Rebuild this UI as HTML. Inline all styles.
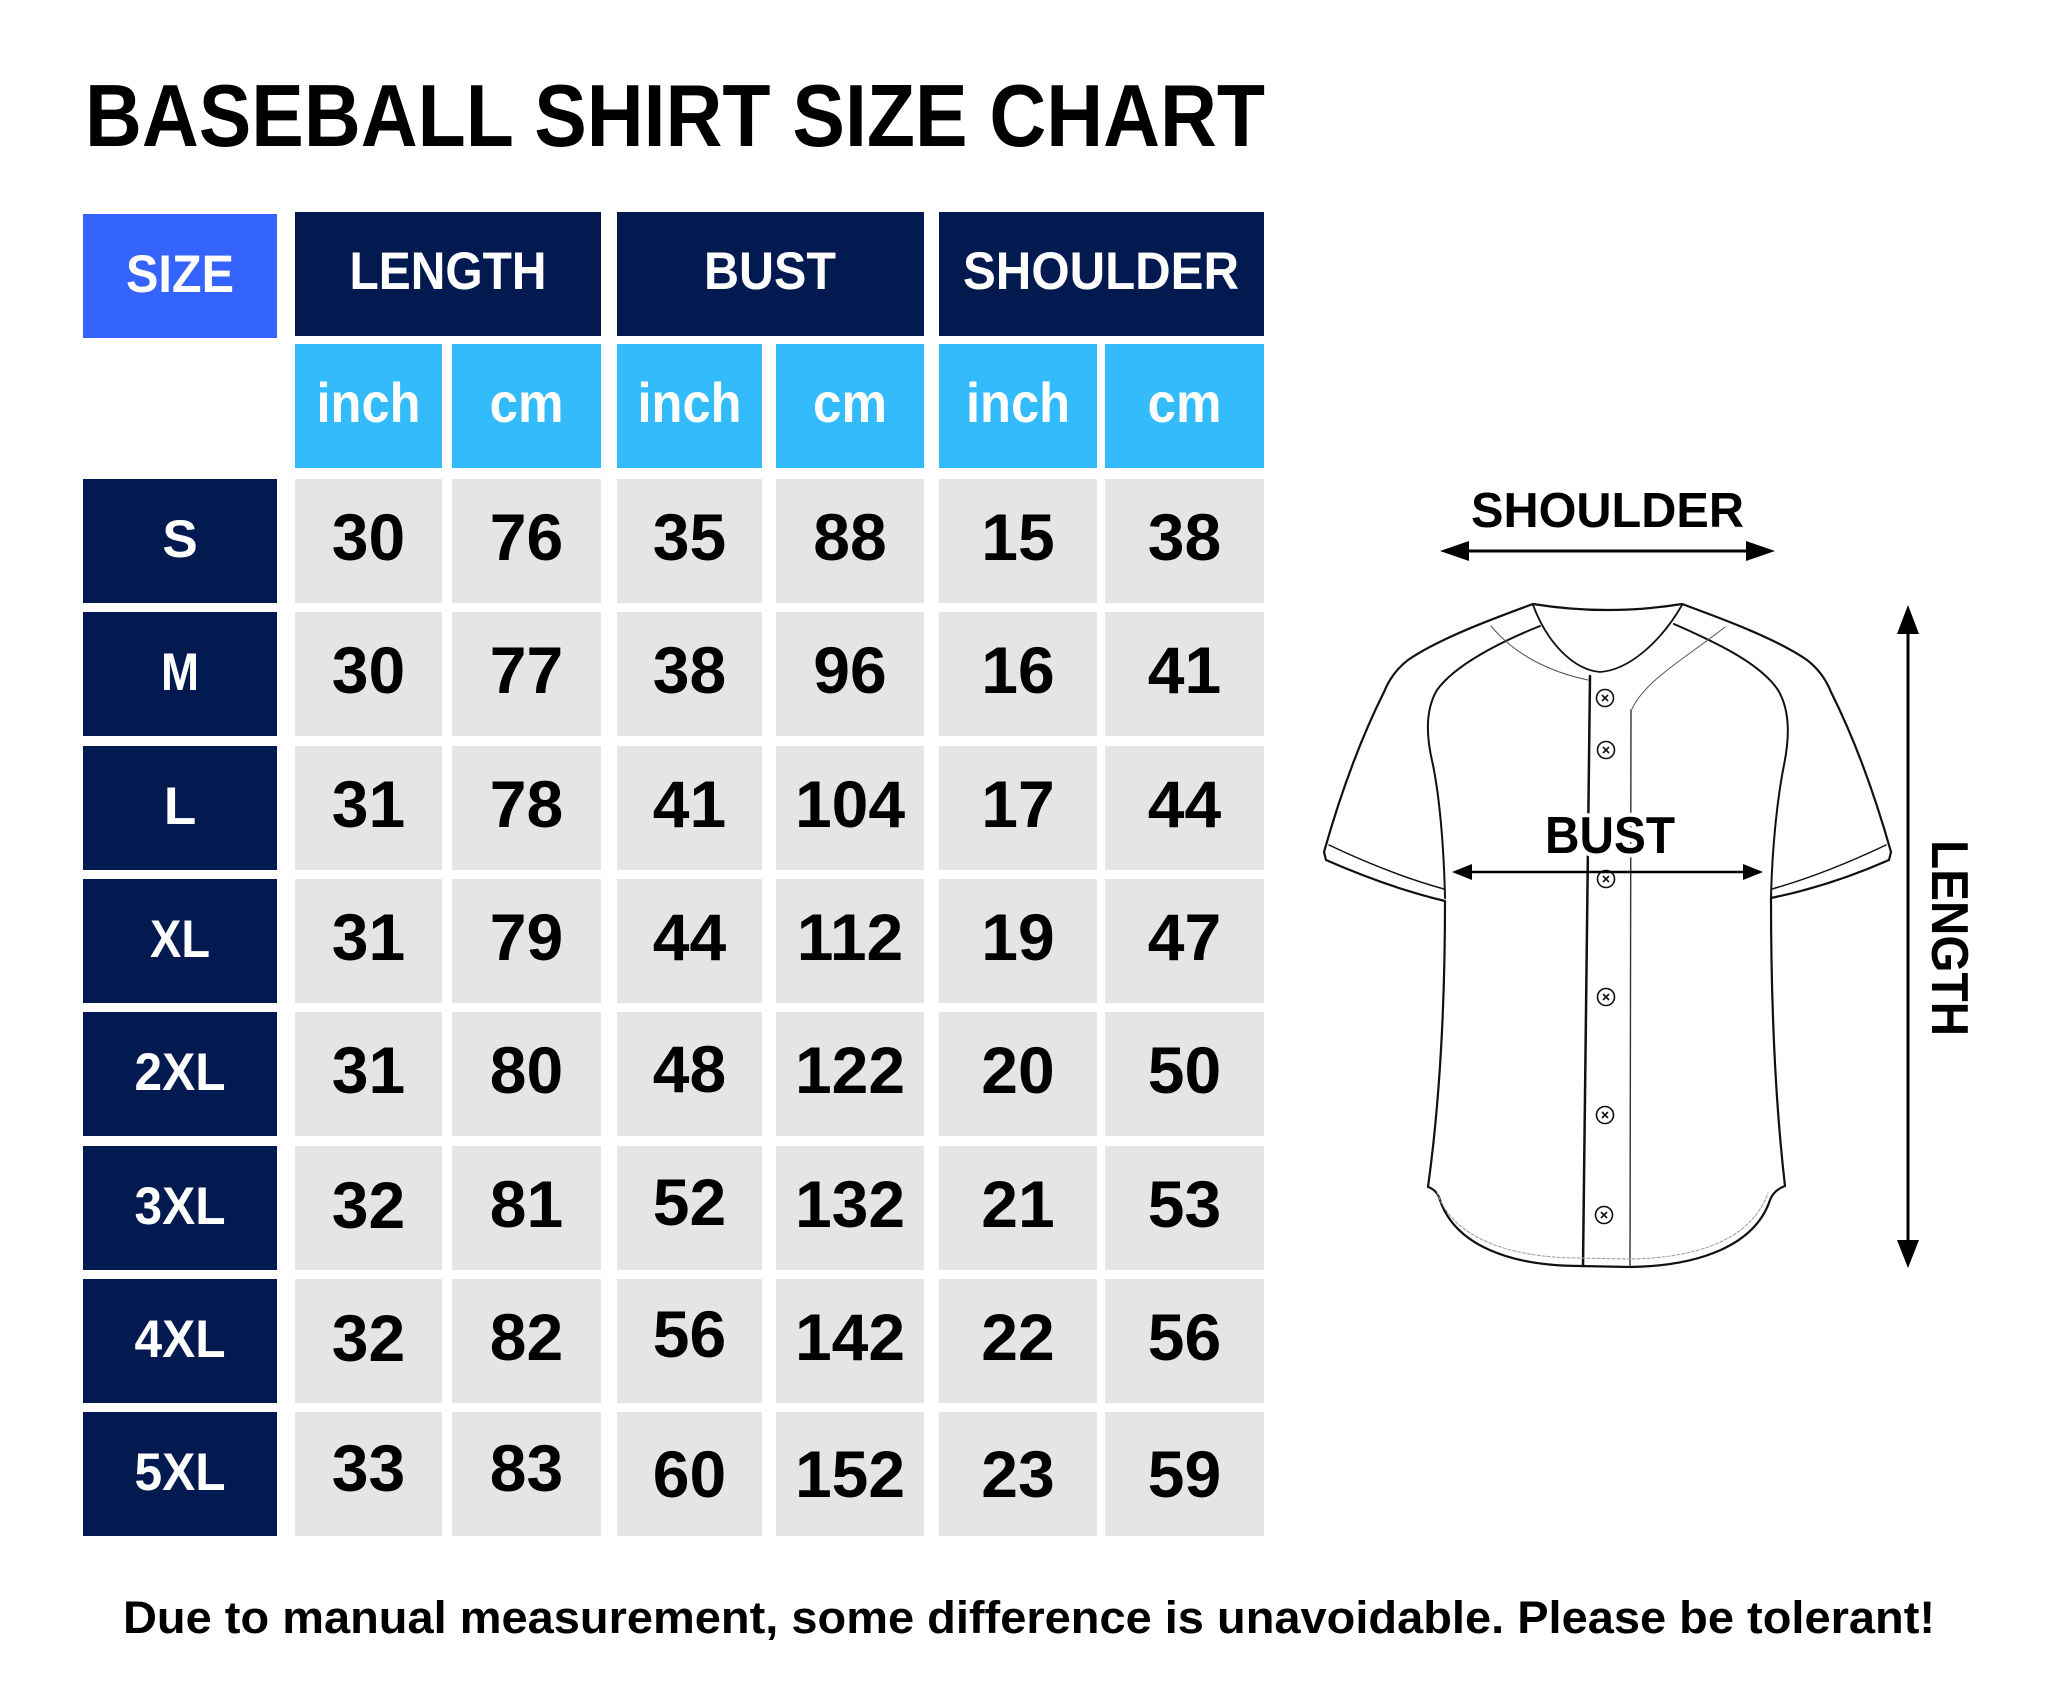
<!DOCTYPE html>
<html>
<head>
<meta charset="utf-8">
<style>
  html,body{margin:0;padding:0;background:#fff;}
  svg{display:block;}
  text{font-family:"Liberation Sans",Arial,sans-serif;font-weight:bold;}
</style>
</head>
<body>
<svg width="2048" height="1702" viewBox="0 0 2048 1702" xmlns="http://www.w3.org/2000/svg">
  <rect width="2048" height="1702" fill="#fff"/>

  <!-- Title -->
  <text x="675" y="146" font-size="88" fill="#000" text-anchor="middle" textLength="1180" lengthAdjust="spacingAndGlyphs">BASEBALL SHIRT SIZE CHART</text>

  <!-- Header row -->
  <rect x="83" y="214" width="194" height="124" fill="#3563fe"/>
  <rect x="295" y="212" width="306" height="124" fill="#031a50"/>
  <rect x="617" y="212" width="307" height="124" fill="#031a50"/>
  <rect x="939" y="212" width="325" height="124" fill="#031a50"/>
  <g fill="#fff" font-size="53" text-anchor="middle">
    <text x="180" y="292" textLength="108" lengthAdjust="spacingAndGlyphs">SIZE</text>
    <text x="448" y="289" textLength="197" lengthAdjust="spacingAndGlyphs">LENGTH</text>
    <text x="770" y="289" textLength="132" lengthAdjust="spacingAndGlyphs">BUST</text>
    <text x="1101" y="289" textLength="276" lengthAdjust="spacingAndGlyphs">SHOULDER</text>
  </g>

  <!-- Units row -->
  <g fill="#33bbfb">
    <rect x="295" y="344" width="147" height="124"/>
    <rect x="452" y="344" width="149" height="124"/>
    <rect x="617" y="344" width="145" height="124"/>
    <rect x="776" y="344" width="148" height="124"/>
    <rect x="939" y="344" width="158" height="124"/>
    <rect x="1105" y="344" width="159" height="124"/>
  </g>
  <g fill="#fff" font-size="56" text-anchor="middle">
    <text x="368.5" y="422" textLength="104" lengthAdjust="spacingAndGlyphs">inch</text>
    <text x="526.5" y="422" textLength="74" lengthAdjust="spacingAndGlyphs">cm</text>
    <text x="689.5" y="422" textLength="104" lengthAdjust="spacingAndGlyphs">inch</text>
    <text x="850" y="422" textLength="74" lengthAdjust="spacingAndGlyphs">cm</text>
    <text x="1018" y="422" textLength="104" lengthAdjust="spacingAndGlyphs">inch</text>
    <text x="1184.5" y="422" textLength="74" lengthAdjust="spacingAndGlyphs">cm</text>
  </g>

  <!-- Size column -->
  <g fill="#031a50">
    <rect x="83" y="479" width="194" height="124"/>
    <rect x="83" y="612" width="194" height="124"/>
    <rect x="83" y="746" width="194" height="124"/>
    <rect x="83" y="879" width="194" height="124"/>
    <rect x="83" y="1012" width="194" height="124"/>
    <rect x="83" y="1146" width="194" height="124"/>
    <rect x="83" y="1279" width="194" height="124"/>
    <rect x="83" y="1412" width="194" height="124"/>
  </g>
  <g fill="#fff" font-size="53" text-anchor="middle">
    <text x="180" y="557">S</text>
    <text x="180" y="690" textLength="38" lengthAdjust="spacingAndGlyphs">M</text>
    <text x="180" y="824">L</text>
    <text x="180" y="957" textLength="60" lengthAdjust="spacingAndGlyphs">XL</text>
    <text x="180" y="1090" textLength="91" lengthAdjust="spacingAndGlyphs">2XL</text>
    <text x="180" y="1224" textLength="91" lengthAdjust="spacingAndGlyphs">3XL</text>
    <text x="180" y="1357" textLength="91" lengthAdjust="spacingAndGlyphs">4XL</text>
    <text x="180" y="1490" textLength="91" lengthAdjust="spacingAndGlyphs">5XL</text>
  </g>

  <!-- Data cells -->
  <g fill="#e5e5e5">
    <rect x="295" y="479" width="147" height="124"/><rect x="452" y="479" width="149" height="124"/><rect x="617" y="479" width="145" height="124"/><rect x="776" y="479" width="148" height="124"/><rect x="939" y="479" width="158" height="124"/><rect x="1105" y="479" width="159" height="124"/>
    <rect x="295" y="612" width="147" height="124"/><rect x="452" y="612" width="149" height="124"/><rect x="617" y="612" width="145" height="124"/><rect x="776" y="612" width="148" height="124"/><rect x="939" y="612" width="158" height="124"/><rect x="1105" y="612" width="159" height="124"/>
    <rect x="295" y="746" width="147" height="124"/><rect x="452" y="746" width="149" height="124"/><rect x="617" y="746" width="145" height="124"/><rect x="776" y="746" width="148" height="124"/><rect x="939" y="746" width="158" height="124"/><rect x="1105" y="746" width="159" height="124"/>
    <rect x="295" y="879" width="147" height="124"/><rect x="452" y="879" width="149" height="124"/><rect x="617" y="879" width="145" height="124"/><rect x="776" y="879" width="148" height="124"/><rect x="939" y="879" width="158" height="124"/><rect x="1105" y="879" width="159" height="124"/>
    <rect x="295" y="1012" width="147" height="124"/><rect x="452" y="1012" width="149" height="124"/><rect x="617" y="1012" width="145" height="124"/><rect x="776" y="1012" width="148" height="124"/><rect x="939" y="1012" width="158" height="124"/><rect x="1105" y="1012" width="159" height="124"/>
    <rect x="295" y="1146" width="147" height="124"/><rect x="452" y="1146" width="149" height="124"/><rect x="617" y="1146" width="145" height="124"/><rect x="776" y="1146" width="148" height="124"/><rect x="939" y="1146" width="158" height="124"/><rect x="1105" y="1146" width="159" height="124"/>
    <rect x="295" y="1279" width="147" height="124"/><rect x="452" y="1279" width="149" height="124"/><rect x="617" y="1279" width="145" height="124"/><rect x="776" y="1279" width="148" height="124"/><rect x="939" y="1279" width="158" height="124"/><rect x="1105" y="1279" width="159" height="124"/>
    <rect x="295" y="1412" width="147" height="124"/><rect x="452" y="1412" width="149" height="124"/><rect x="617" y="1412" width="145" height="124"/><rect x="776" y="1412" width="148" height="124"/><rect x="939" y="1412" width="158" height="124"/><rect x="1105" y="1412" width="159" height="124"/>
  </g>

  <g fill="#000" font-size="66" text-anchor="middle">
    <!-- S -->
    <text x="368.5" y="560">30</text><text x="526.5" y="560">76</text><text x="689.5" y="560">35</text><text x="850" y="560">88</text><text x="1018" y="560">15</text><text x="1184.5" y="560">38</text>
    <!-- M -->
    <text x="368.5" y="693">30</text><text x="526.5" y="693">77</text><text x="689.5" y="693">38</text><text x="850" y="693">96</text><text x="1018" y="693">16</text><text x="1184.5" y="693">41</text>
    <!-- L -->
    <text x="368.5" y="827">31</text><text x="526.5" y="827">78</text><text x="689.5" y="827">41</text><text x="850" y="827">104</text><text x="1018" y="827">17</text><text x="1184.5" y="827">44</text>
    <!-- XL -->
    <text x="368.5" y="960">31</text><text x="526.5" y="960">79</text><text x="689.5" y="960">44</text><text x="850" y="960">112</text><text x="1018" y="960">19</text><text x="1184.5" y="960">47</text>
    <!-- 2XL -->
    <text x="368.5" y="1093">31</text><text x="526.5" y="1093">80</text><text x="689.5" y="1092">48</text><text x="850" y="1093">122</text><text x="1018" y="1093">20</text><text x="1184.5" y="1093">50</text>
    <!-- 3XL -->
    <text x="368.5" y="1228">32</text><text x="526.5" y="1227">81</text><text x="689.5" y="1225">52</text><text x="850" y="1227">132</text><text x="1018" y="1227">21</text><text x="1184.5" y="1227">53</text>
    <!-- 4XL -->
    <text x="368.5" y="1361">32</text><text x="526.5" y="1360">82</text><text x="689.5" y="1357">56</text><text x="850" y="1360">142</text><text x="1018" y="1360">22</text><text x="1184.5" y="1360">56</text>
    <!-- 5XL -->
    <text x="368.5" y="1491">33</text><text x="526.5" y="1491">83</text><text x="689.5" y="1497">60</text><text x="850" y="1497">152</text><text x="1018" y="1497">23</text><text x="1184.5" y="1497">59</text>
  </g>

  <!-- Shirt illustration -->
  <g fill="none" stroke="#111" stroke-linejoin="round" stroke-linecap="round">
    <path fill="#fff" stroke-width="2.2" d="M1533,604
      C1495,618 1440,638 1408,660
      C1395,670 1388,682 1384,692
      Q1350,760 1324,852
      L1326,860
      Q1390,888 1445,901
      C1445,1000 1440,1100 1428,1187
      Q1437,1190 1440,1200
      C1455,1245 1510,1266 1580,1266
      L1630,1267
      C1700,1266 1755,1245 1770,1200
      Q1774,1190 1785,1186
      C1775,1100 1771,1000 1771,898
      Q1830,886 1889,860
      L1891,852
      Q1865,760 1831,692
      C1827,682 1820,670 1807,660
      C1775,638 1720,618 1682,604
      Q1607,616 1533,604 Z"/>
    <path stroke-width="1.5" d="M1329,845 Q1390,874 1444,889"/>
    <path stroke-width="1.5" d="M1886,845 Q1825,874 1772,889"/>
    <path stroke-width="2" d="M1540,626 C1500,642 1455,665 1437,690 C1424,712 1427,740 1433,765 C1440,800 1444,850 1445,898"/>
    <path stroke-width="2" d="M1674,624 C1715,642 1760,663 1778,690 C1791,712 1789,740 1784,765 C1777,800 1772,850 1771,898"/>
    <path stroke-width="1.8" d="M1533,605 C1548,645 1575,670 1600,672 C1630,670 1662,640 1682,605"/>
    <path stroke-width="1" stroke="#555" d="M1491,626 C1515,655 1550,672 1588,680"/>
    <path stroke-width="1" stroke="#555" d="M1725,627 C1690,655 1645,680 1632,709"/>
    <path stroke-width="2.5" d="M1590,676 L1584,1180 L1583,1266"/>
    <path stroke-width="1.4" stroke="#333" d="M1631,710 L1630,1267"/>
    <path stroke-width="1" stroke="#999" stroke-dasharray="3,2" d="M1437,1192 C1452,1238 1510,1258 1580,1258 L1630,1259 C1700,1258 1752,1238 1768,1193"/>
  </g>
  <g fill="#fff" stroke="#111" stroke-width="1.6">
    <circle cx="1605" cy="698" r="8.5"/>
    <circle cx="1606" cy="750" r="8.5"/>
    <circle cx="1606" cy="879" r="8.5"/>
    <circle cx="1606" cy="997" r="8.5"/>
    <circle cx="1605" cy="1115" r="8.5"/>
    <circle cx="1604" cy="1215" r="8.5"/>
  </g>
  <g stroke="#111" stroke-width="1.6">
    <path d="M1602,695 l6,6 M1608,695 l-6,6"/>
    <path d="M1603,747 l6,6 M1609,747 l-6,6"/>
    <path d="M1603,876 l6,6 M1609,876 l-6,6"/>
    <path d="M1603,994 l6,6 M1609,994 l-6,6"/>
    <path d="M1602,1112 l6,6 M1608,1112 l-6,6"/>
    <path d="M1601,1212 l6,6 M1607,1212 l-6,6"/>
  </g>

  <!-- Shoulder arrow -->
  <line x1="1465" y1="551" x2="1750" y2="551" stroke="#000" stroke-width="3"/>
  <polygon points="1440,551 1469,541 1469,561" fill="#000"/>
  <polygon points="1775,551 1746,541 1746,561" fill="#000"/>
  <text x="1607.5" y="527" font-size="49" fill="#000" text-anchor="middle" textLength="273" lengthAdjust="spacingAndGlyphs">SHOULDER</text>

  <!-- Bust arrow -->
  <line x1="1468" y1="872" x2="1746" y2="872" stroke="#000" stroke-width="2.5"/>
  <polygon points="1452,872 1472,864 1472,880" fill="#000"/>
  <polygon points="1763,872 1743,864 1743,880" fill="#000"/>
  <text x="1610" y="853" font-size="52" fill="#000" stroke="#fff" stroke-width="8" paint-order="stroke" stroke-linejoin="round" text-anchor="middle" textLength="130" lengthAdjust="spacingAndGlyphs">BUST</text>

  <!-- Length arrow -->
  <line x1="1908" y1="630" x2="1908" y2="1244" stroke="#000" stroke-width="3"/>
  <polygon points="1908,605 1897,634 1919,634" fill="#000"/>
  <polygon points="1908,1268 1897,1240 1919,1240" fill="#000"/>
  <text transform="translate(1932,840) rotate(90)" x="0" y="0" font-size="52" fill="#000" textLength="196" lengthAdjust="spacingAndGlyphs">LENGTH</text>

  <!-- Footer -->
  <text x="1029" y="1633" font-size="45" fill="#000" text-anchor="middle" textLength="1812" lengthAdjust="spacingAndGlyphs">Due to manual measurement, some difference is unavoidable. Please be tolerant!</text>
</svg>
</body>
</html>
